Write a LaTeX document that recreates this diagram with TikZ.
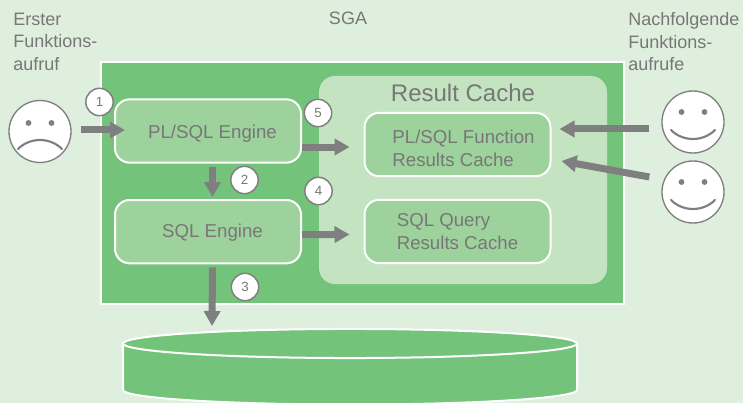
\documentclass[tikz,border=0pt]{standalone}
\usepackage{fontspec}
\setmainfont{Liberation Sans}
\usetikzlibrary{arrows.meta,positioning,calc}
\definecolor{pagebg}{HTML}{DEEFDD}
\definecolor{sgagreen}{HTML}{74C37A}
\definecolor{cachegreen}{HTML}{C4E3C1}
\definecolor{boxgreen}{HTML}{9DD29C}
\definecolor{arrgray}{HTML}{7F7F80}
\definecolor{txtgray}{HTML}{777777}
\newcommand{\facefeatures}[4]{%
  \fill[arrgray] ($(#1)+(-11.5,#4)$) circle[radius=2.2pt];
  \fill[arrgray] ($(#1)+(11.5,#4)$) circle[radius=2.2pt];
  \draw[arrgray, line width=1.6pt, line cap=round]
    ($(#1)+(-22,#2)$) .. controls ($(#1)+(-10,#3)$) and ($(#1)+(10,#3)$) .. ($(#1)+(22,#2)$);
}
\newcommand{\boxline}[3]{\hspace*{#1}\raisebox{-#2}[\height][\depth]{#3}}

\begin{document}
\begin{tikzpicture}[
  x=0.75pt, y=-0.75pt,
  every node/.style={text=txtgray, font=\fontsize{13.5}{16.9}\selectfont},
  sgabox/.style={rectangle, draw=white, fill=sgagreen, line width=1.5pt,
                 minimum width=392.5pt, minimum height=181.5pt},
  cachebox/.style={rectangle, fill=cachegreen, rounded corners=12pt,
                   minimum width=216pt, minimum height=156pt},
  box/.style={rectangle, draw=white, fill=boxgreen, line width=1.5pt, rounded corners=11pt,
              minimum width=139.5pt, minimum height=47.5pt, align=left, inner sep=0pt,
              font=\fontsize{14}{16.9}\selectfont},
  face/.style={circle, draw=arrgray, fill=white, line width=1pt,
               minimum size=46.5pt, inner sep=0pt},
  numdot/.style={circle, draw=arrgray, fill=white, line width=1.1pt, minimum size=20.5pt,
                 inner sep=0pt, font=\fontsize{10}{12}\selectfont},
  captxt/.style={anchor=north west, align=left, inner sep=0pt},
  arr/.style={-{Triangle[length=11.25pt,width=12pt]}, arrgray, line width=5.25pt},
  dbshape/.style={draw=white, fill=sgagreen, line width=1.5pt},
  node distance=26.5pt and 47pt
]
  \useasboundingbox (0,0) rectangle (743,403);
  \fill[pagebg] (0,0) rectangle (743,403);

  \node[captxt] (first) at (13,12.5) {Erster\\Funktions-\\aufruf};
  \node (sga) at (348,18) {SGA};
  \node[captxt] (next) at (628,12.5) {Nachfolgende\\Funktions-\\aufrufe};

  \node[sgabox] (sgaframe) at (362.8,183) {};
  \node[cachebox] (cache) at (463,180) {};
  \node[font=\fontsize{18}{21}\selectfont] (cachetitle) at (463,93) {Result Cache};

  \node[box] (plsql) at (208,131) {\boxline{6.75pt}{2.25pt}{PL/SQL Engine}};
  \node[box, below=of plsql] (sqlengine) {\boxline{6.75pt}{1.1pt}{SQL Engine}};
  \node[box] (plfunc) at (457.5,144.5)
    {\boxline{9pt}{2.7pt}{PL/SQL Function}\\\boxline{9pt}{2.7pt}{Results Cache}};
  \node[box] (sqlquery) at (457.5,231.5) {SQL Query\\Results Cache};

  % database
  \coordinate (dbtop) at (349.5,329);
  \draw[dbshape] (123,343.5) -- (123,390)
    arc[start angle=180, end angle=360, x radius=170.25pt, y radius=10.9pt]
    -- (577,343.5) -- cycle;
  \draw[dbshape] (350,343.5) ellipse[x radius=170.25pt, y radius=10.9pt];

  % faces
  \node[face] (sad) at (40,131.5) {};
  \node[face] (happya) at (693,122) {};
  \node[face] (happyb) at (693,192) {};
  \facefeatures{sad}{17.5}{5.5}{-8.5}
  \facefeatures{happya}{8}{20}{-10}
  \facefeatures{happyb}{8}{20}{-10}

  \draw[arr] ($(sad.east)+(9,-1.5)$) -- ($(plsql.west)+(11,-1)$);
  \draw[arr] ($(plsql.east)+(0,16)$) -- ($(plfunc.west)+(-14,2.5)$);
  \draw[arr] ($(plsql.south)+(4.5,3)$) -- ($(sqlengine.north)+(4.5,-2)$);
  \draw[arr] ($(sqlengine.east)+(0,3)$) -- ($(sqlquery.west)+(-14,3)$);
  \draw[arr] ($(sqlengine.south)+(4.5,3)$) -- ($(dbtop)+(-137.5,-3)$);
  \draw[arr] ($(happya.west)+(-12,7)$) -- ($(plfunc.east)+(8,-15.5)$);
  \draw[arr] ($(happyb.west)+(-12,-15)$) -- ($(plfunc.east)+(10,16.5)$);

  \foreach \n/\x/\y in {1/99.5/102, 2/244.5/180, 3/245/287, 4/318.5/191, 5/318/113}
    \node[numdot] (num\n) at (\x,\y) {\n};
\end{tikzpicture}
\end{document}
